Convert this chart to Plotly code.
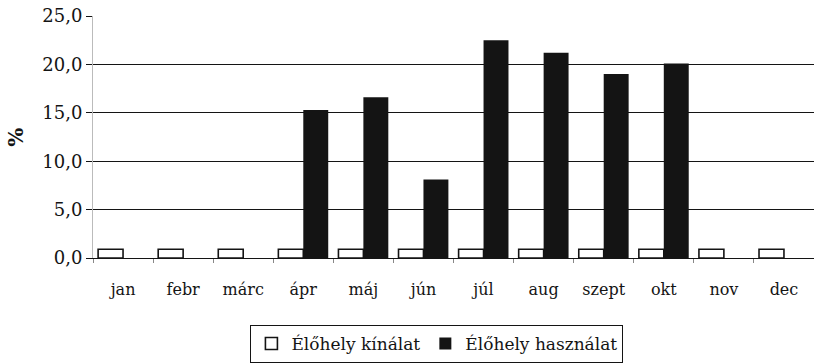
import plotly.graph_objects as go

months = ["jan", "febr", "márc", "ápr", "máj", "jún", "júl", "aug", "szept", "okt", "nov", "dec"]
kinalat = [0.9, 0.9, 0.9, 0.9, 0.9, 0.9, 0.9, 0.9, 0.9, 0.9, 0.9, 0.9]
hasznalat = [0, 0, 0, 15.3, 16.6, 8.1, 22.5, 21.2, 19.0, 20.1, 0, 0]
y_ticks = [0, 5, 10, 15, 20, 25]

FONT = "DejaVu Serif"
INK = "#141414"

fig = go.Figure()
fig.add_trace(go.Bar(
    x=months, y=kinalat, name="Élőhely kínálat",
    marker=dict(color="white", line=dict(color=INK, width=1.6)),
))
fig.add_trace(go.Bar(
    x=months, y=hasznalat, name="Élőhely használat",
    marker=dict(color=INK, line=dict(color=INK, width=0)),
))

fig.update_layout(
    width=814, height=363,
    margin=dict(l=93, r=0, t=16, b=104),
    paper_bgcolor="white", plot_bgcolor="white",
    barmode="group", bargap=0.17, bargroupgap=0,
    separators=", ",
    font=dict(family=FONT, size=17, color=INK),
    showlegend=True,
    legend=dict(
        orientation="h", x=0.477, xanchor="center", y=-0.358, yanchor="middle",
        bordercolor=INK, borderwidth=1, bgcolor="white",
        font=dict(family=FONT, size=17, color=INK),
        itemwidth=30, tracegroupgap=0,
    ),
    xaxis=dict(
        showgrid=False, showline=True, linecolor=INK, linewidth=1,
        ticks="outside", tickson="boundaries", ticklen=4, tickcolor="#888",
        ticklabelstandoff=17, tickfont=dict(family=FONT, size=16),
    ),
    yaxis=dict(
        range=[0, 25], tickvals=y_ticks, tickformat=".1f",
        showgrid=True, gridcolor=INK, gridwidth=1,
        showline=True, linecolor="#bbb", linewidth=1,
        ticks="outside", ticklen=6, tickcolor=INK,
        tickfont=dict(family=FONT, size=18), zeroline=False,
    ),
    annotations=[dict(
        text="<b>%</b>", textangle=-90, xref="paper", yref="paper",
        x=-0.107, y=0.5, xanchor="center", yanchor="middle",
        showarrow=False, font=dict(family=FONT, size=20, color=INK),
    )],
)

fig.write_html("out.html")
